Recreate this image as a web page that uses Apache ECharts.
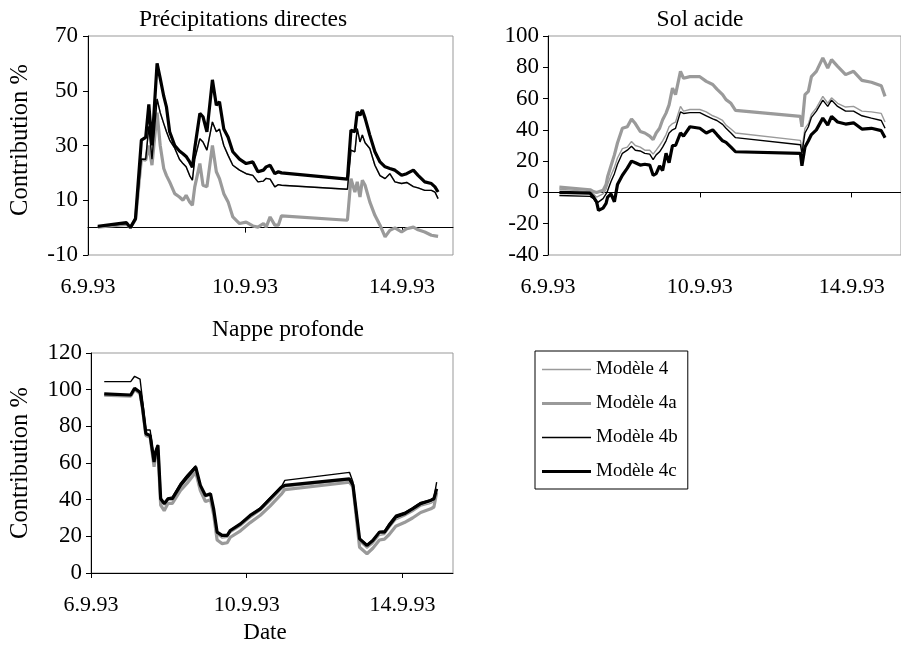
<!DOCTYPE html>
<html>
<head>
<meta charset="utf-8">
<script src="https://cdn.jsdelivr.net/npm/echarts@6/dist/echarts.min.js"></script>
<style>html,body{margin:0;padding:0;background:#fff;}#c{width:901px;height:652px;}</style>
</head>
<body>
<div id="c"></div>
<script>
// ---- data (x = days after 6.9.93) ----
const modelNames = ['Modèle 4', 'Modèle 4a', 'Modèle 4b', 'Modèle 4c'];
const tickDays = [0, 4, 8];
const tickLabels = ['6.9.93', '10.9.93', '14.9.93'];
const panelTitles = ['Précipitations directes', 'Sol acide', 'Nappe profonde'];

// Panel 1: Précipitations directes
const p1Days = [0.25,0.98,1.08,1.21,1.36,1.47,1.55,1.63,1.76,1.84,1.93,2.00,2.08,2.21,2.33,2.42,2.50,2.59,2.66,2.72,2.85,2.93,3.03,3.17,3.27,3.35,3.46,3.57,3.69,3.86,4.03,4.20,4.33,4.47,4.54,4.64,4.76,4.85,4.93,6.61,6.70,6.80,6.86,6.93,6.99,7.06,7.18,7.31,7.44,7.57,7.69,7.82,7.99,8.12,8.29,8.41,8.58,8.75,8.84,8.92];
const p1M4  = [0.3,1.5,0,3,25,25,37,25,47,42,38,35,32,29,25,23.4,22.2,19,17.3,25,32.5,31.3,28.3,38.6,35,36,30,26.4,22.8,21,19.7,19.1,16.7,17,18,17.7,14.9,15.7,15.5,14,28.3,27.7,36.2,31.3,33.8,31,28.9,22.8,19,17.9,19.7,16.7,16.1,16.5,15,14.5,13.6,13.6,13,10.6];
const p1M4a = [0.2,1.2,0,3,25,24.6,30,22.8,42,30,21.6,19,16.7,12.4,11.2,10,11.8,9.4,8.2,14.9,23.4,15.5,14.9,30,20.4,17.9,12.4,9.4,3.9,1.5,2,0.6,0.2,1.5,0.2,3.9,0.9,0.9,4.3,2.7,17.9,13,16.7,11.2,17.3,15.5,9.4,4.5,0.9,-3.4,-1,-0.1,-1.6,-0.4,0.2,-0.8,-1.6,-2.8,-3,-3.2];
const p1M4b = [0.3,1.5,0,3,25,25,37,25,47,42,38,35,32,29,25,23.4,22.2,19,17.3,25,32.5,31.3,28.3,38.6,35,36,30,26.4,22.8,21,19.7,19.1,16.7,17,18,17.7,14.9,15.7,15.5,14,28.3,27.7,36.2,31.3,33.8,31,28.9,22.8,19,17.9,19.7,16.7,16.1,16.5,15,14.5,13.6,13.6,13,10.6];
const p1M4c = [0.5,1.8,0,3.3,32,33,45,30,60,54.5,48,44,35,30,28,27,26,24,22,29,41.7,40.5,35,54,44.7,46,36,33,27.7,25,23.4,24,20.4,21,22.2,22.8,19.7,20.4,20,17.7,35.6,35,42.3,41,43,40,33.8,27.7,24,22.2,21.6,21,19.1,19.7,21,19.1,16.7,16.1,14.9,13];

// Panel 2: Sol acide
const p2Days = [0.30,1.11,1.20,1.28,1.33,1.45,1.53,1.57,1.66,1.75,1.83,1.96,2.09,2.20,2.30,2.43,2.55,2.68,2.77,2.85,2.94,3.02,3.11,3.19,3.28,3.36,3.49,3.57,3.74,4.00,4.17,4.34,4.45,4.60,4.69,4.82,4.94,6.65,6.69,6.77,6.86,6.94,7.07,7.24,7.37,7.47,7.63,7.84,8.05,8.27,8.52,8.78,8.88];
const p2M4  = [2,0.5,-1,-3,-4,-1,2,5,11,16,22,28,29,32.6,30,29,27,27,24.5,27,30,33,37,42,44,45,55,52,53,53,51.5,49,48,46,43,40.5,38,33.3,28,41,44,50,54,61.4,57,60.5,57,54.6,55,52,51.5,50.5,45];
const p2M4a = [3.4,1.7,0.5,0,-1,1.3,5,10,17,24,31.6,41,42,47,44,39,38,36,33.7,38,41,46.5,50.7,56,66.7,62.5,77.4,73,74,74,71,69,66,62.5,59.3,57,52.5,48.6,42,62.5,64.6,74,77.4,86,79.5,84.9,80.6,75.3,77.4,71.6,70.4,68.2,61.4];
const p2M4b = [-2,-2.5,-4,-7,-8,-4,-1,1,7,12,18,25,27,29.5,27,26.5,25,24.5,21,24,26,29,33,38,40,41,51.5,50.5,51,51,49,47,46,43.5,41,38,35,30.5,25,38,42,48,52,59,55,59,55,52,52,49,47.5,46,41];
const p2M4c = [0,-0.5,-3,-6,-11.5,-10,-7,-3,-1,-6,5,11,15.5,20,19,17.5,18,17.5,11,12,17,14,25,19,30,30,38,36,42,41,38,40,37,33,32,29,26,25,17,29,33,37,40,47.5,43,48.6,45,43.7,44.5,40.5,41,39.5,35];

// Panel 3: Nappe profonde
const p3Days = [0.34,1.02,1.12,1.26,1.32,1.41,1.52,1.62,1.66,1.72,1.79,1.88,1.98,2.09,2.30,2.47,2.69,2.81,2.94,3.07,3.15,3.24,3.37,3.50,3.58,3.84,4.09,4.35,4.60,4.89,4.98,6.64,6.73,6.90,7.09,7.24,7.41,7.54,7.66,7.83,8.05,8.26,8.47,8.73,8.81,8.88];
const p3M4  = [97.5,97,100.5,98.5,91,76,75,60,66,69,40,37,40,40,47,51,57,47,41.5,42.5,34,21,19,19.5,22,25.5,30,34,39,45.5,47,50.5,48,17,13.5,16,20.5,21,24.5,29,31,33.5,36.5,38,39,46];
const p3M4a = [97,96.5,100,98,90,75,74,58,64,67,37,34,38,38,45,49,55,45,39,40,32,18,16,16.5,19.5,23,27.5,31.5,36.5,43,45.5,49.5,47,14,10.5,13.5,18,18.5,21,25.5,27.5,30,33,35,36,44];
const p3M4b = [104.4,104.4,107.3,105.8,95,78,78,62,67,70,41,38,41,41.5,49,53.5,58.5,48,42,43.5,35,22,20,20.5,23.5,27,31.5,35.5,41,47,50.5,54.9,49.6,19,15.5,18,22.5,23,27,31.5,33,35.5,38.5,40,41,49.6];
const p3M4c = [97.7,97.1,100.8,98.6,91,76,75,60.5,66,69.6,40.5,37.8,40.5,40.5,47.8,52.3,57.8,47.8,42.3,43.2,35,22.3,20.5,20.5,23.2,26.8,31.4,35,40.5,46.8,47.8,51.3,48,18.6,15,17.7,22.3,22.3,25.9,30.5,32.3,35,37.8,39.6,40.5,45.9];

const yRanges = [[-10, 70], [-40, 100], [0, 120]];

// ---- chart ----
const FONT = '"Liberation Serif", "Times New Roman", serif';
const panels = [
  {days: p1Days, vals: [p1M4, p1M4a, p1M4b, p1M4c]},
  {days: p2Days, vals: [p2M4, p2M4a, p2M4b, p2M4c]},
  {days: p3Days, vals: [p3M4, p3M4a, p3M4b, p3M4c]}
];
const styles = [
  {color: '#9a9a9a', width: 1.4},
  {color: '#9a9a9a', width: 3.2},
  {color: '#000000', width: 1.4},
  {color: '#000000', width: 3.2}
];
const grids = [
  {left: 88, top: 36, width: 365, height: 219},
  {left: 548, top: 36, width: 363, height: 219},
  {left: 91, top: 353, width: 362, height: 220}
];
const labelMargins = [21, 21, 21];
const yLabelMargins = [10, 9, 9];

const xAxes = [], yAxes = [], series = [];
grids.forEach((g, i) => {
  xAxes.push({
    type: 'value', gridIndex: i, min: 0, max: 9.3, interval: 4,
    axisLine: {show: true, onZero: true, lineStyle: {color: '#000', width: 1}},
    axisTick: {show: true, customValues: tickDays, length: 5, inside: false, lineStyle: {color: '#000'}},
    axisLabel: {show: false},
    splitLine: {show: false}
  });
  xAxes.push({
    type: 'value', gridIndex: i, min: 0, max: 9.3, interval: 4, position: 'bottom',
    axisLine: {show: false, onZero: false},
    axisTick: {show: false},
    axisLabel: {
      show: true, customValues: tickDays, margin: labelMargins[i],
      formatter: v => { const k = tickDays.indexOf(v); return k >= 0 ? tickLabels[k] : ''; },
      color: '#000', fontSize: 22, fontFamily: FONT
    },
    splitLine: {show: false}
  });
  yAxes.push({
    type: 'value', gridIndex: i, min: yRanges[i][0], max: yRanges[i][1], interval: 20,
    axisLine: {show: true, onZero: false, lineStyle: {color: '#000', width: 1}},
    axisTick: {show: true, length: 5, inside: false, lineStyle: {color: '#000'}},
    axisLabel: {color: '#000', fontSize: 23, fontFamily: FONT, margin: yLabelMargins[i]},
    splitLine: {show: false}
  });
  const p = panels[i];
  modelNames.forEach((name, m) => {
    series.push({
      name: name, type: 'line', xAxisIndex: 2 * i, yAxisIndex: i,
      data: p.days.map((d, k) => [d, p.vals[m][k]]),
      symbol: 'none', showSymbol: false, smooth: false, animation: false,
      lineStyle: {color: styles[m].color, width: styles[m].width},
      itemStyle: {color: styles[m].color},
      emphasis: {disabled: true}, silent: true
    });
  });
});

const legendData = modelNames.map((name, m) => ({
  name: name,
  icon: 'path://M0,0h49v' + (styles[m].width > 2 ? 3.2 : 1.4) + 'h-49z',
  itemStyle: {color: styles[m].color}
}));

const txt = (text, x, y, size, rot) => ({
  type: 'text', x: x, y: y, rotation: rot || 0,
  style: {text: text, font: size + 'px ' + FONT, fill: '#000', textAlign: 'center', textVerticalAlign: 'middle'}
});

const chart = echarts.init(document.getElementById('c'), null, {renderer: 'canvas'});
chart.setOption({
  backgroundColor: '#ffffff',
  animation: false,
  grid: grids.map(g => Object.assign({show: true, borderColor: '#999', borderWidth: 1, backgroundColor: 'transparent', containLabel: false}, g)),
  xAxis: xAxes,
  yAxis: yAxes,
  legend: {
    data: legendData, orient: 'vertical', left: 535, top: 351,
    itemWidth: 49, itemHeight: 14, itemGap: 15, symbolKeepAspect: true,
    padding: [9, 10, 8, 7],
    borderColor: '#000', borderWidth: 1, borderRadius: 0,
    textStyle: {color: '#000', fontSize: 19, fontFamily: FONT},
    selectedMode: false
  },
  graphic: [
    txt(panelTitles[0], 243, 20, 23.5),
    txt(panelTitles[1], 700, 20, 23.5),
    txt(panelTitles[2], 288, 330, 23.5),
    txt('Contribution %', 21, 140, 24.5, Math.PI / 2),
    txt('Contribution %', 21, 463, 24.5, Math.PI / 2),
    txt('Date', 265, 633, 23)
  ],
  series: series
});
</script>
</body>
</html>
